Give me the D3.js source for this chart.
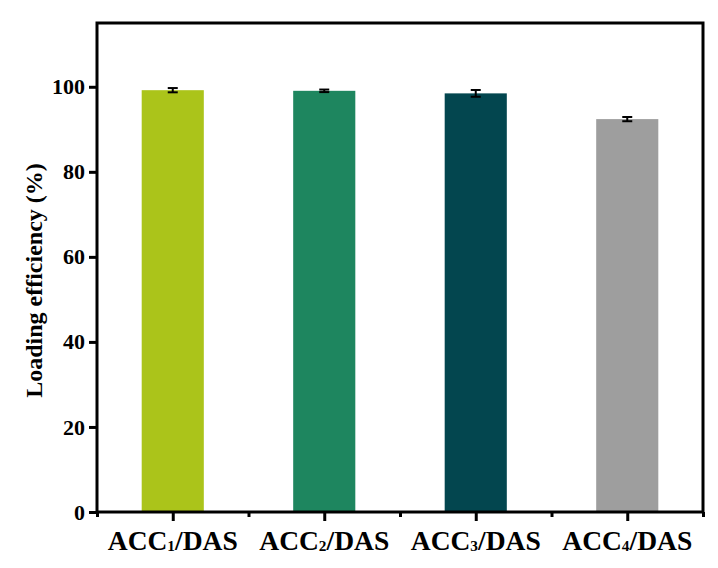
<!DOCTYPE html>
<html><head><meta charset="utf-8">
<script src="https://cdn.jsdelivr.net/npm/d3@7"></script>
<style>body{margin:0;background:#fff}svg{display:block}</style>
</head><body>
<script>
const categories = ["ACC1/DAS","ACC2/DAS","ACC3/DAS","ACC4/DAS"];
const subscripts = ["1","2","3","4"];
const values = [99.2, 99.05, 98.45, 92.4];
const errors = [0.5, 0.3, 0.8, 0.5];
const colors = ["#abc41a","#1e865f","#03464f","#9e9e9e"];
const yTicks = [0,20,40,60,80,100];

const W=718,H=568;
const L=97,R=703,T=23,B=512;
const svg=d3.select("body").append("svg").attr("width",W).attr("height",H);
const font="'Liberation Serif','Times New Roman',serif";

const x=d3.scaleLinear().domain([0.5,4.5]).range([L,R]);
const y=d3.scaleLinear().domain([0,115]).range([B,T]);
const bw=x(1.41)-x(1);

svg.selectAll("rect.bar").data(values).enter().append("rect")
  .attr("x",(d,i)=>x(i+1)-bw/2).attr("width",bw)
  .attr("y",d=>y(d)).attr("height",d=>y(0)-y(d))
  .attr("fill",(d,i)=>colors[i]);

const eb=svg.append("g").attr("stroke","#000").attr("stroke-width",2);
values.forEach((v,i)=>{
  const cx=x(i+1),e=errors[i];
  eb.append("line").attr("x1",cx).attr("x2",cx).attr("y1",y(v+e)).attr("y2",y(v-e));
  eb.append("line").attr("x1",cx-5).attr("x2",cx+5).attr("y1",y(v+e)).attr("y2",y(v+e));
  eb.append("line").attr("x1",cx-5).attr("x2",cx+5).attr("y1",y(v-e)).attr("y2",y(v-e));
});

svg.append("rect").attr("x",L).attr("y",T).attr("width",R-L).attr("height",B-T)
  .attr("fill","none").attr("stroke","#000").attr("stroke-width",3);

const ya=svg.append("g").attr("transform",`translate(${L},0)`)
  .call(d3.axisLeft(y).tickValues(yTicks).tickSize(8).tickPadding(4));
ya.select(".domain").remove();
ya.selectAll("line").attr("stroke","#000").attr("stroke-width",3);
ya.selectAll("text").attr("font-family",font).attr("font-weight","bold").attr("font-size","22px").attr("fill","#000");

const xa=svg.append("g").attr("transform",`translate(0,${B})`)
  .call(d3.axisBottom(x).tickValues([1,2,3,4]).tickSize(9).tickFormat(""));
xa.select(".domain").remove();
xa.selectAll("line").attr("stroke","#000").attr("stroke-width",3);
const xm=svg.append("g").attr("transform",`translate(0,${B})`)
  .call(d3.axisBottom(x).tickValues([0.5,1.5,2.5,3.5,4.5]).tickSize(5).tickFormat(""));
xm.select(".domain").remove();
xm.selectAll("line").attr("stroke","#000").attr("stroke-width",3);

categories.forEach((c,i)=>{
  const t=svg.append("text").attr("x",x(i+1)).attr("y",B+38).attr("text-anchor","middle")
    .attr("font-family",font).attr("font-weight","bold").attr("font-size","27px").attr("fill","#000")
    .attr("textLength",130).attr("lengthAdjust","spacingAndGlyphs");
  const parts=c.split(subscripts[i]);
  t.append("tspan").text(parts[0]);
  t.append("tspan").attr("font-size","15px").attr("dy",1).text(subscripts[i]);
  t.append("tspan").attr("dy",-1).text(parts[1]);
});

svg.append("text").attr("transform",`translate(42,${(T+B)/2+13}) rotate(-90)`)
  .attr("text-anchor","middle").attr("font-family",font).attr("font-weight","bold")
  .attr("font-size","24px").attr("fill","#000").text("Loading efficiency (%)");
</script>
</body></html>
